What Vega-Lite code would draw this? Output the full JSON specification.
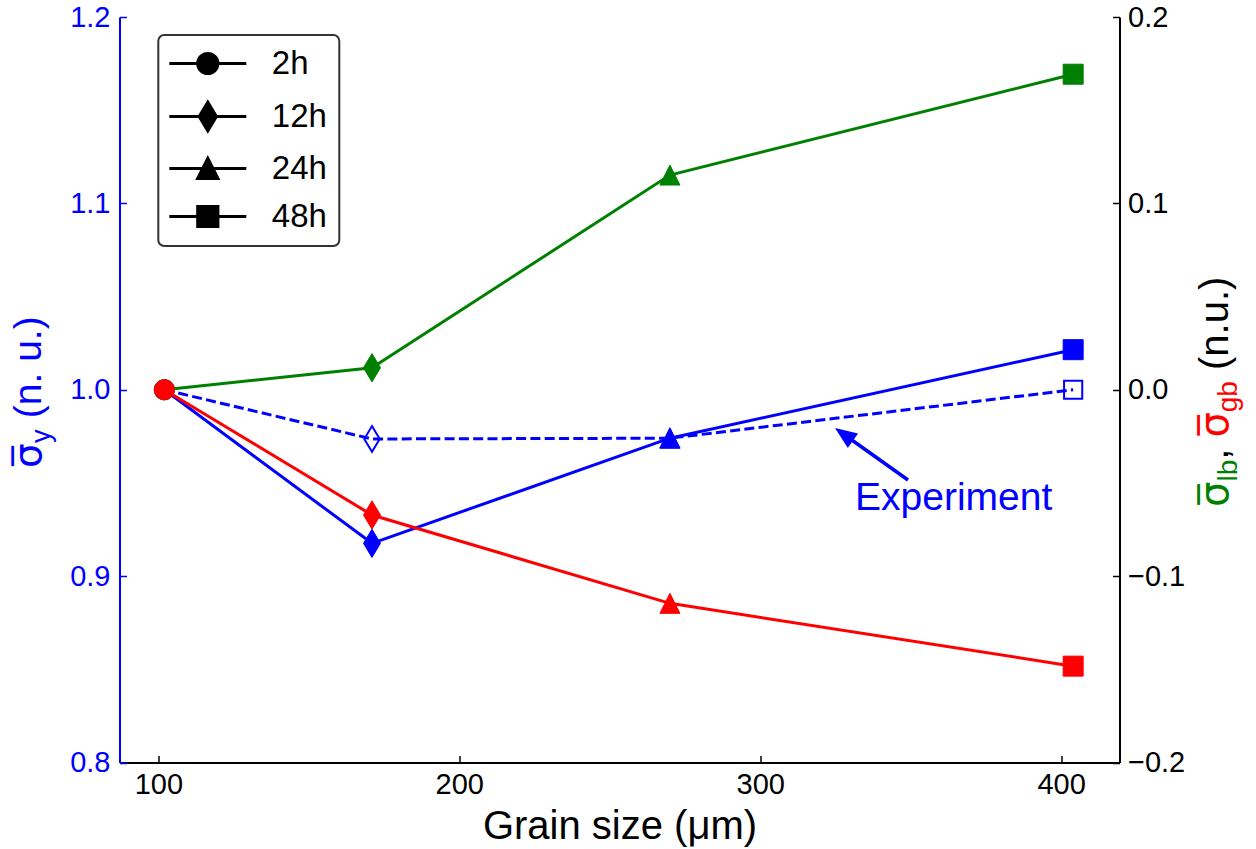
{
  "$schema": "https://vega.github.io/schema/vega-lite/v6.json",
  "width": 1000,
  "height": 745.5,
  "autosize": {"type": "none"},
  "padding": {"left": 119.5, "top": 17, "right": 136.5, "bottom": 86.5},
  "background": "#ffffff",
  "config": {
    "view": {"stroke": null},
    "font": "Liberation Sans",
    "axis": {"labelFont": "Liberation Sans", "titleFont": "Liberation Sans", "grid": false, "tickWidth": 1.5, "domainWidth": 2, "labelFontSize": 29, "titleFontWeight": "normal", "tickSize": -7},
    "axisBottom": {"domainColor": "#000000", "tickColor": "#000000", "labelColor": "#000000", "labelPadding": 14.5, "titleFontSize": 40, "titleColor": "#000000", "titleBaseline": "alphabetic", "titleY": 75.5},
    "axisLeft": {"domainColor": "#0000ff", "tickColor": "#0000ff", "labelColor": "#0000ff", "labelPadding": 16.5},
    "axisRight": {"domainColor": "#000000", "tickColor": "#000000", "labelColor": "#000000", "labelPadding": 15}
  },
  "datasets": {
    "sy": [
      {"x": 102, "y": 1.0, "t": "2h"},
      {"x": 171, "y": 0.9176, "t": "12h"},
      {"x": 270, "y": 0.974, "t": "24h"},
      {"x": 404, "y": 1.0215, "t": "48h"}
    ],
    "exp": [
      {"x": 102, "y": 1.0, "t": "2h"},
      {"x": 171, "y": 0.9736, "t": "12h"},
      {"x": 270, "y": 0.974, "t": "24h"},
      {"x": 404, "y": 1.0, "t": "48h"}
    ],
    "lb": [
      {"x": 102, "y": 0.0, "t": "2h"},
      {"x": 171, "y": 0.0118, "t": "12h"},
      {"x": 270, "y": 0.1152, "t": "24h"},
      {"x": 404, "y": 0.1693, "t": "48h"}
    ],
    "gb": [
      {"x": 102, "y": 0.0, "t": "2h"},
      {"x": 171, "y": -0.0672, "t": "12h"},
      {"x": 270, "y": -0.1146, "t": "24h"},
      {"x": 404, "y": -0.1483, "t": "48h"}
    ]
  },
  "layer": [
    {
      "layer": [
        {
          "data": {"name": "exp"},
          "mark": {"type": "line", "color": "#0000ff", "strokeWidth": 3, "strokeDash": [10, 4.3]},
          "encoding": {
            "x": {"field": "x", "type": "quantitative", "scale": {"domain": [87.1, 419.4], "nice": false, "zero": false}, "title": "Grain size (\u03bcm)", "axis": {"values": [100, 200, 300, 400], "format": "d"}},
            "y": {"field": "y", "type": "quantitative", "scale": {"domain": [0.8, 1.2], "nice": false, "zero": false}, "title": null, "axis": {"values": [0.8, 0.9, 1.0, 1.1, 1.2], "format": ".1f", "orient": "left"}}
          }
        },
        {
          "data": {"name": "sy"},
          "mark": {"type": "line", "color": "#0000ff", "strokeWidth": 3},
          "encoding": {
            "x": {"field": "x", "type": "quantitative", "scale": {"domain": [87.1, 419.4], "nice": false, "zero": false}, "title": "Grain size (\u03bcm)"},
            "y": {"field": "y", "type": "quantitative", "scale": {"domain": [0.8, 1.2], "nice": false, "zero": false}, "title": null}
          }
        },
        {
          "data": {"name": "exp"},
          "mark": {"type": "point", "filled": false, "color": "#0000ff", "strokeWidth": 2, "size": 330, "opacity": 1},
          "encoding": {
            "x": {"field": "x", "type": "quantitative", "scale": {"domain": [87.1, 419.4], "nice": false, "zero": false}, "title": "Grain size (\u03bcm)"},
            "y": {"field": "y", "type": "quantitative", "scale": {"domain": [0.8, 1.2], "nice": false, "zero": false}, "title": null},
            "shape": {"field": "t", "type": "nominal", "scale": {"domain": ["2h", "12h", "24h", "48h"], "range": ["M1,0A1,1,0,1,1,-1,0A1,1,0,1,1,1,0Z", "M0,-1.414L0.849,0L0,1.414L-0.849,0Z", "M0,-1L1,1L-1,1Z", "square"]}, "legend": null}
          }
        },
        {
          "data": {"name": "sy"},
          "mark": {"type": "point", "filled": true, "color": "#0000ff", "stroke": "#0000ff", "strokeWidth": 1, "size": 400, "opacity": 1},
          "encoding": {
            "x": {"field": "x", "type": "quantitative", "scale": {"domain": [87.1, 419.4], "nice": false, "zero": false}, "title": "Grain size (\u03bcm)"},
            "y": {"field": "y", "type": "quantitative", "scale": {"domain": [0.8, 1.2], "nice": false, "zero": false}, "title": null},
            "shape": {"field": "t", "type": "nominal", "scale": {"domain": ["2h", "12h", "24h", "48h"], "range": ["M1,0A1,1,0,1,1,-1,0A1,1,0,1,1,1,0Z", "M0,-1.414L0.849,0L0,1.414L-0.849,0Z", "M0,-1L1,1L-1,1Z", "square"]}, "legend": null}
          }
        },
        {
          "data": {"values": [{"x": 349.12, "y": 0.95158, "x2": 328.12, "y2": 0.97572}]},
          "mark": {"type": "rule", "color": "#0000ff", "strokeWidth": 3.5},
          "encoding": {
            "x": {"field": "x", "type": "quantitative", "scale": {"domain": [87.1, 419.4], "nice": false, "zero": false}, "title": "Grain size (\u03bcm)"},
            "y": {"field": "y", "type": "quantitative", "scale": {"domain": [0.8, 1.2], "nice": false, "zero": false}, "title": null},
            "x2": {"field": "x2"},
            "y2": {"field": "y2"}
          }
        },
        {
          "data": {"values": [{"x": 327.84, "y": 0.97605}]},
          "mark": {"type": "point", "filled": true, "color": "#0000ff", "opacity": 1, "shape": "M0,-1L0.8,1L-0.8,1Z", "size": 484, "angle": 305.4},
          "encoding": {
            "x": {"field": "x", "type": "quantitative", "scale": {"domain": [87.1, 419.4], "nice": false, "zero": false}, "title": "Grain size (\u03bcm)"},
            "y": {"field": "y", "type": "quantitative", "scale": {"domain": [0.8, 1.2], "nice": false, "zero": false}, "title": null}
          }
        },
        {
          "data": {"values": [{"x": 331.51, "y": 0.93548, "label": "Experiment"}]},
          "mark": {"type": "text", "align": "left", "baseline": "alphabetic", "font": "Liberation Sans", "fontSize": 39, "color": "#0000ff"},
          "encoding": {
            "x": {"field": "x", "type": "quantitative", "scale": {"domain": [87.1, 419.4], "nice": false, "zero": false}, "title": "Grain size (\u03bcm)"},
            "y": {"field": "y", "type": "quantitative", "scale": {"domain": [0.8, 1.2], "nice": false, "zero": false}, "title": null},
            "text": {"field": "label"}
          }
        },
        {
          "data": {"values": [{"x": 61.18, "y": 0.958, "label": "\u03c3\u0305"}]},
          "mark": {"type": "text", "angle": 270, "align": "left", "baseline": "alphabetic", "font": "DejaVu Sans", "fontSize": 39, "color": "#0000ff"},
          "encoding": {
            "x": {"field": "x", "type": "quantitative", "scale": {"domain": [87.1, 419.4], "nice": false, "zero": false}, "title": "Grain size (\u03bcm)"},
            "y": {"field": "y", "type": "quantitative", "scale": {"domain": [0.8, 1.2], "nice": false, "zero": false}, "title": null},
            "text": {"field": "label"}
          }
        },
        {
          "data": {"values": [{"x": 64.17, "y": 0.97143, "label": "y"}]},
          "mark": {"type": "text", "angle": 270, "align": "left", "baseline": "alphabetic", "font": "Liberation Sans", "fontSize": 27, "color": "#0000ff"},
          "encoding": {
            "x": {"field": "x", "type": "quantitative", "scale": {"domain": [87.1, 419.4], "nice": false, "zero": false}, "title": "Grain size (\u03bcm)"},
            "y": {"field": "y", "type": "quantitative", "scale": {"domain": [0.8, 1.2], "nice": false, "zero": false}, "title": null},
            "text": {"field": "label"}
          }
        },
        {
          "data": {"values": [{"x": 61.18, "y": 0.98473, "label": "(n. u.)"}]},
          "mark": {"type": "text", "angle": 270, "align": "left", "baseline": "alphabetic", "font": "Liberation Sans", "fontSize": 39, "color": "#0000ff"},
          "encoding": {
            "x": {"field": "x", "type": "quantitative", "scale": {"domain": [87.1, 419.4], "nice": false, "zero": false}, "title": "Grain size (\u03bcm)"},
            "y": {"field": "y", "type": "quantitative", "scale": {"domain": [0.8, 1.2], "nice": false, "zero": false}, "title": null},
            "text": {"field": "label"}
          }
        },
        {
          "data": {"values": [{"x": 455.62, "y": 0.93709, "label": "\u03c3\u0305"}]},
          "mark": {"type": "text", "angle": 270, "align": "left", "baseline": "alphabetic", "font": "DejaVu Sans", "fontSize": 40, "color": "#008000"},
          "encoding": {
            "x": {"field": "x", "type": "quantitative", "scale": {"domain": [87.1, 419.4], "nice": false, "zero": false}, "title": "Grain size (\u03bcm)"},
            "y": {"field": "y", "type": "quantitative", "scale": {"domain": [0.8, 1.2], "nice": false, "zero": false}, "title": null},
            "text": {"field": "label"}
          }
        },
        {
          "data": {"values": [{"x": 458.61, "y": 0.95072, "label": "lb"}]},
          "mark": {"type": "text", "angle": 270, "align": "left", "baseline": "alphabetic", "font": "Liberation Sans", "fontSize": 28, "color": "#008000"},
          "encoding": {
            "x": {"field": "x", "type": "quantitative", "scale": {"domain": [87.1, 419.4], "nice": false, "zero": false}, "title": "Grain size (\u03bcm)"},
            "y": {"field": "y", "type": "quantitative", "scale": {"domain": [0.8, 1.2], "nice": false, "zero": false}, "title": null},
            "text": {"field": "label"}
          }
        },
        {
          "data": {"values": [{"x": 455.62, "y": 0.96241, "label": ","}, {"x": 455.62, "y": 1.0106, "label": "(n.u.)"}]},
          "mark": {"type": "text", "angle": 270, "align": "left", "baseline": "alphabetic", "font": "Liberation Sans", "fontSize": 40, "color": "#000000"},
          "encoding": {
            "x": {"field": "x", "type": "quantitative", "scale": {"domain": [87.1, 419.4], "nice": false, "zero": false}, "title": "Grain size (\u03bcm)"},
            "y": {"field": "y", "type": "quantitative", "scale": {"domain": [0.8, 1.2], "nice": false, "zero": false}, "title": null},
            "text": {"field": "label"}
          }
        },
        {
          "data": {"values": [{"x": 455.62, "y": 0.97433, "label": "\u03c3\u0305"}]},
          "mark": {"type": "text", "angle": 270, "align": "left", "baseline": "alphabetic", "font": "DejaVu Sans", "fontSize": 40, "color": "#ff0000"},
          "encoding": {
            "x": {"field": "x", "type": "quantitative", "scale": {"domain": [87.1, 419.4], "nice": false, "zero": false}, "title": "Grain size (\u03bcm)"},
            "y": {"field": "y", "type": "quantitative", "scale": {"domain": [0.8, 1.2], "nice": false, "zero": false}, "title": null},
            "text": {"field": "label"}
          }
        },
        {
          "data": {"values": [{"x": 458.61, "y": 0.98795, "label": "gb"}]},
          "mark": {"type": "text", "angle": 270, "align": "left", "baseline": "alphabetic", "font": "Liberation Sans", "fontSize": 28, "color": "#ff0000"},
          "encoding": {
            "x": {"field": "x", "type": "quantitative", "scale": {"domain": [87.1, 419.4], "nice": false, "zero": false}, "title": "Grain size (\u03bcm)"},
            "y": {"field": "y", "type": "quantitative", "scale": {"domain": [0.8, 1.2], "nice": false, "zero": false}, "title": null},
            "text": {"field": "label"}
          }
        }
      ]
    },
    {
      "layer": [
        {
          "data": {"name": "lb"},
          "mark": {"type": "line", "color": "#008000", "strokeWidth": 3},
          "encoding": {
            "x": {"field": "x", "type": "quantitative", "scale": {"domain": [87.1, 419.4], "nice": false, "zero": false}, "title": "Grain size (\u03bcm)"},
            "y": {"field": "y", "type": "quantitative", "scale": {"domain": [-0.2, 0.2], "nice": false, "zero": false}, "title": null, "axis": {"values": [-0.2, -0.1, 0, 0.1, 0.2], "format": ".1f", "orient": "right"}}
          }
        },
        {
          "data": {"name": "lb"},
          "mark": {"type": "point", "filled": true, "color": "#008000", "stroke": "#008000", "strokeWidth": 1, "size": 400, "opacity": 1},
          "encoding": {
            "x": {"field": "x", "type": "quantitative", "scale": {"domain": [87.1, 419.4], "nice": false, "zero": false}, "title": "Grain size (\u03bcm)"},
            "y": {"field": "y", "type": "quantitative", "scale": {"domain": [-0.2, 0.2], "nice": false, "zero": false}, "title": null},
            "shape": {"field": "t", "type": "nominal", "scale": {"domain": ["2h", "12h", "24h", "48h"], "range": ["M1,0A1,1,0,1,1,-1,0A1,1,0,1,1,1,0Z", "M0,-1.414L0.849,0L0,1.414L-0.849,0Z", "M0,-1L1,1L-1,1Z", "square"]}, "legend": null}
          }
        },
        {
          "data": {"name": "gb"},
          "mark": {"type": "line", "color": "#ff0000", "strokeWidth": 3},
          "encoding": {
            "x": {"field": "x", "type": "quantitative", "scale": {"domain": [87.1, 419.4], "nice": false, "zero": false}, "title": "Grain size (\u03bcm)"},
            "y": {"field": "y", "type": "quantitative", "scale": {"domain": [-0.2, 0.2], "nice": false, "zero": false}, "title": null}
          }
        },
        {
          "data": {"name": "gb"},
          "mark": {"type": "point", "filled": true, "color": "#ff0000", "stroke": "#ff0000", "strokeWidth": 1, "size": 400, "opacity": 1},
          "encoding": {
            "x": {"field": "x", "type": "quantitative", "scale": {"domain": [87.1, 419.4], "nice": false, "zero": false}, "title": "Grain size (\u03bcm)"},
            "y": {"field": "y", "type": "quantitative", "scale": {"domain": [-0.2, 0.2], "nice": false, "zero": false}, "title": null},
            "shape": {"field": "t", "type": "nominal", "scale": {"domain": ["2h", "12h", "24h", "48h"], "range": ["M1,0A1,1,0,1,1,-1,0A1,1,0,1,1,1,0Z", "M0,-1.414L0.849,0L0,1.414L-0.849,0Z", "M0,-1L1,1L-1,1Z", "square"]}, "legend": null}
          }
        }
      ]
    },
    {
      "data": {"name": "sy"},
      "mark": {"type": "point", "filled": true, "color": "#000000", "stroke": "#000000", "strokeWidth": 3.2, "size": 400, "opacity": 0},
      "encoding": {
        "x": {"field": "x", "type": "quantitative", "scale": {"domain": [87.1, 419.4], "nice": false, "zero": false}, "title": "Grain size (\u03bcm)"},
        "y": {"field": "y", "type": "quantitative", "scale": {"domain": [0.8, 1.2], "nice": false, "zero": false}, "title": null, "axis": null},
        "shape": {"field": "t", "type": "nominal", "scale": {"domain": ["2h", "12h", "24h", "48h"], "range": ["M-3.85,0L3.85,0M1,0A1,1,0,1,1,-1,0A1,1,0,1,1,1,0Z", "M-3.85,0L3.85,0M0,-1.414L0.849,0L0,1.414L-0.849,0Z", "M-3.85,0L3.85,0M0,-1L1,1L-1,1Z", "M-3.85,0L3.85,0M-1,-1L1,-1L1,1L-1,1Z"]},
          "legend": {"orient": "none", "legendX": 38.8, "legendY": 18, "title": null, "padding": 12, "cornerRadius": 6, "strokeColor": "#333333", "fillColor": "#ffffff", "labelFont": "Liberation Sans", "labelFontSize": 33, "labelColor": "#000000", "symbolSize": 400, "symbolOffset": 21, "labelOffset": 47.5, "rowPadding": 14, "symbolOpacity": 1, "symbolFillColor": "#000000", "symbolStrokeColor": "#000000", "symbolStrokeWidth": 3.2,
            "encoding": {"legend": {"strokeWidth": {"value": 2}}, "symbols": {"fill": {"value": "#000000"}, "stroke": {"value": "#000000"}, "strokeWidth": {"value": 3.2}, "opacity": {"value": 1}}}}}
      }
    }
  ],
  "resolve": {"scale": {"y": "independent", "shape": "independent"}}
}
